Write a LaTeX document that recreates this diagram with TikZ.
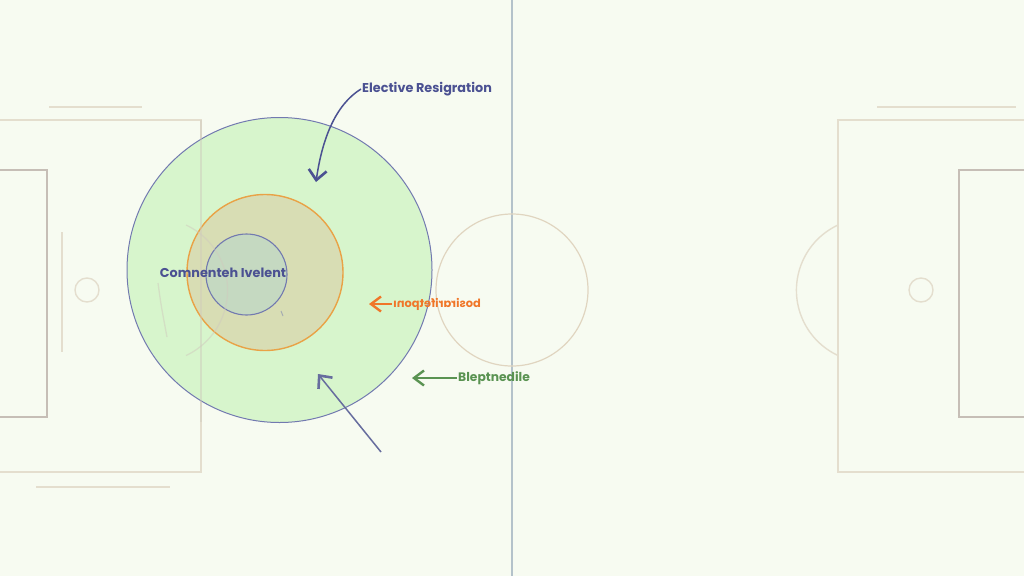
\documentclass[tikz,border=0pt]{standalone}
\usepackage{fontspec}
\setmainfont{Poppins}
\usepackage{graphicx}
\usetikzlibrary{arrows.meta}
\definecolor{bgc}{HTML}{F7FBF1}
\definecolor{pitch}{HTML}{E4DECE}
\definecolor{goalc}{HTML}{C6BEB6}
\definecolor{midc}{HTML}{B4C2CA}
\definecolor{greenfill}{HTML}{D4F5C9}
\definecolor{bluestroke}{HTML}{7279B0}
\definecolor{orangefill}{HTML}{D9D9B0}
\definecolor{orangestroke}{HTML}{E9A246}
\definecolor{innerfill}{HTML}{C3D9C3}
\definecolor{bluetext}{HTML}{4B5192}
\definecolor{orangetext}{HTML}{F07628}
\definecolor{greentext}{HTML}{5A9352}
\tikzset{
  pitchline/.style={draw=pitch, line width=1.4pt},
  goalline/.style={draw=goalc, line width=1.4pt},
  lbl/.style={font=\bfseries\fontsize{12.8}{14}\selectfont, inner sep=1pt},
  barb/.style={-{Straight Barb[length=10pt,width=18pt,line width=2.6pt]}, line width=1.5pt},
  smallbarb/.style={-{Straight Barb[length=10pt,width=15pt,line width=2.4pt]}, line width=1.7pt}
}
\begin{document}
\begin{tikzpicture}[x=1pt,y=-1pt]
\fill[bgc] (0,0) rectangle (1024,576);
\useasboundingbox (0,0) rectangle (1024,576);
% halfway line and centre circle
\draw[midc, line width=1.6pt] (512,0) -- (512,576);
\draw[draw=pitch!90!brown, line width=1.2pt] (512,290) circle (76);
% left penalty area
\draw[pitchline] (-5,120) -- (201,120) -- (201,472) -- (-5,472);
\draw[goalline] (-5,170) -- (47,170) -- (47,417) -- (-5,417);
\draw[pitchline] (87,290) circle (12);
\draw[pitchline] (62,232) -- (62,352);
\draw[pitchline] (49,107) -- (142,107);
\draw[pitchline] (36,487) -- (170,487);
% right penalty area
\draw[pitchline] (1030,120) -- (838,120) -- (838,472) -- (1030,472);
\draw[goalline] (1030,170) -- (959,170) -- (959,417) -- (1030,417);
\draw[pitchline] (921,290) circle (12);
\draw[pitchline] (877,107) -- (1016,107);
\draw[pitchline] (838,225) arc[start angle=245, end angle=115, radius=72];
% circles
\fill[greenfill, fill opacity=0.9] (279.5,270) circle (152.5);
\draw[bluestroke, line width=1pt] (279.5,270) circle (152.5);
\fill[orangefill, fill opacity=0.85] (265,272.5) circle (78);
\draw[orangestroke, line width=1.4pt] (265,272.5) circle (78);
\fill[innerfill, fill opacity=0.9] (246.5,274.5) circle (40.5);
\draw[bluestroke, line width=1.1pt] (246.5,274.5) circle (40.5);
% faint pitch lines showing through
\draw[pitch!80!gray, opacity=0.45, line width=1.3pt] (201,120) -- (201,422);
\draw[pitch!80!gray, opacity=0.5, line width=1.3pt] (186,225) arc[start angle=-65, end angle=65, radius=72];
\draw[pitch!80!gray, opacity=0.5, line width=1.3pt] (158,283) .. controls (161,305) .. (167,337);
\draw[bluestroke, opacity=0.5, line width=1pt] (281,311) -- (283,316);
% labels
\node[lbl, text=bluetext] (inner) at (223,273) {Comnenteh Ivelent};
\node[lbl, text=bluetext, anchor=west] (elab) at (361,89) {Elective Resigration};
\node[lbl, text=orangetext, anchor=west, font=\bfseries\fontsize{11.4}{13}\selectfont] (olab) at (392,304) {\reflectbox{bosirarifetponı}};
\node[lbl, text=greentext, anchor=west, font=\bfseries\fontsize{12.3}{14}\selectfont] (glab) at (457,378) {Bleptnedile};
% arrow endpoints
\coordinate (etip) at (316,182);
\coordinate (otip) at (369,304);
\coordinate (gtip) at (412,378);
\coordinate (bstart) at (381,452);
\coordinate (btip) at (318,374);
% arrows
\draw[barb, bluetext] (elab.west) .. controls (335,105) and (322,140) .. (etip);
\draw[barb, bluestroke!90!black] (bstart) -- (btip);
\draw[smallbarb, orangetext] (olab.west) -- (otip);
\draw[smallbarb, greentext] (glab.west) -- (gtip);
\end{tikzpicture}
\end{document}
